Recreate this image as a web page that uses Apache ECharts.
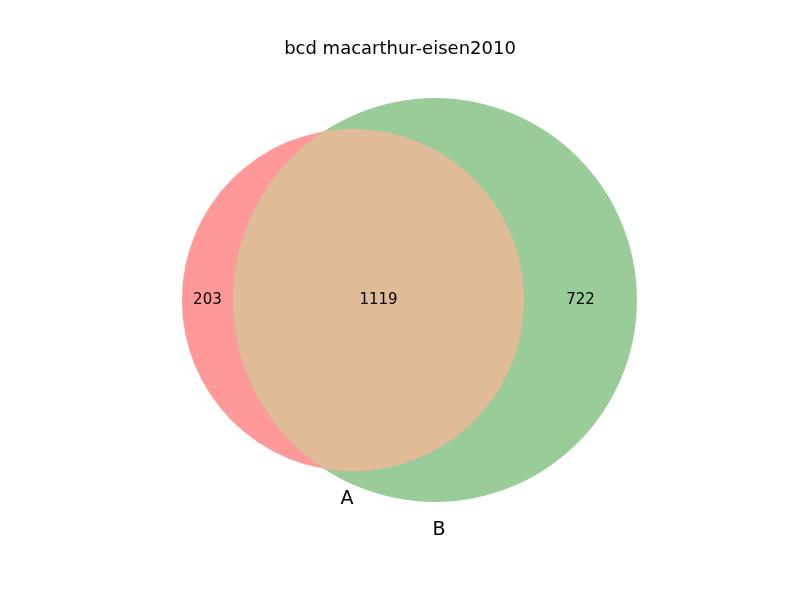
<!DOCTYPE html>
<html>
<head>
<meta charset="utf-8">
<script src="https://cdn.jsdelivr.net/npm/echarts@6/dist/echarts.min.js"></script>
<style>html,body{margin:0;padding:0;background:#fff}#chart{width:800px;height:600px}</style>
</head>
<body>
<div id="chart"></div>
<script>
// region counts: A only, A∩B, B only
var regionNames = ['10', '11', '01'];
var regionCounts = [203, 1119, 722];
var setNames = ['A', 'B'];
// circle centres in data units, radius from set size
var setCentersX = [-5.63, 4.19];
var setSizes = [regionCounts[0] + regionCounts[1], regionCounts[1] + regionCounts[2]];
var setColors = ['#ff9999', '#99cc99'];
var overlapColor = '#e0bb97';

var myChart = echarts.init(document.getElementById('chart'));

function renderVenn(params, api) {
    var rA = api.size([Math.sqrt(setSizes[0] / Math.PI), 0])[0];
    var rB = api.size([Math.sqrt(setSizes[1] / Math.PI), 0])[0];
    var pA = api.coord([setCentersX[0], 0]);
    var pB = api.coord([setCentersX[1], 0]);
    var cy = pA[1];
    var d = pB[0] - pA[0];
    var a = (rA * rA - rB * rB + d * d) / (2 * d);
    var h = Math.sqrt(rA * rA - a * a);
    var ix = pA[0] + a;
    var largeA = a < 0 ? 1 : 0;
    var largeB = (d - a) < 0 ? 1 : 0;
    var pathData = 'M' + ix + ' ' + (cy - h) +
        ' A' + rA + ' ' + rA + ' 0 ' + largeA + ' 1 ' + ix + ' ' + (cy + h) +
        ' A' + rB + ' ' + rB + ' 0 ' + largeB + ' 1 ' + ix + ' ' + (cy - h) + ' Z';
    var leftA = pA[0] - rA, rightA = pA[0] + rA;
    var leftB = pB[0] - rB, rightB = pB[0] + rB;
    var labelX = [(leftA + leftB) / 2, (leftB + rightA) / 2, (rightA + rightB) / 2];
    var children = [
        {type: 'circle', shape: {cx: pA[0], cy: cy, r: rA}, style: {fill: setColors[0]}},
        {type: 'circle', shape: {cx: pB[0], cy: cy, r: rB}, style: {fill: setColors[1]}},
        {type: 'path', shape: {pathData: pathData}, style: {fill: overlapColor}}
    ];
    for (var i = 0; i < regionCounts.length; i++) {
        children.push({type: 'text', style: {x: labelX[i], y: cy, text: String(regionCounts[i]),
            fill: '#000', fontSize: 15, fontFamily: 'DejaVu Sans', align: 'center', verticalAlign: 'middle'}});
    }
    children.push({type: 'text', style: {x: pA[0] - 6, y: cy + rA + 28, text: setNames[0],
        fill: '#000', fontSize: 19, fontFamily: 'DejaVu Sans', align: 'center', verticalAlign: 'middle'}});
    children.push({type: 'text', style: {x: pB[0] + 4, y: cy + rB + 28, text: setNames[1],
        fill: '#000', fontSize: 19, fontFamily: 'DejaVu Sans', align: 'center', verticalAlign: 'middle'}});
    return {type: 'group', children: children};
}

option = {
    animation: false,
    title: {
        text: 'bcd macarthur-eisen2010',
        left: 'center',
        top: 35,
        textStyle: {fontSize: 18, fontWeight: 'normal', color: '#000', fontFamily: 'DejaVu Sans'}
    },
    grid: {left: 0, right: 0, top: 0, bottom: 0},
    xAxis: {type: 'value', min: -47.94, max: 47.94, show: false},
    yAxis: {type: 'value', min: -35.95, max: 35.95, show: false},
    series: [{
        type: 'custom',
        renderItem: renderVenn,
        data: [[0, 0]]
    }]
};
myChart.setOption(option);
</script>
</body>
</html>
